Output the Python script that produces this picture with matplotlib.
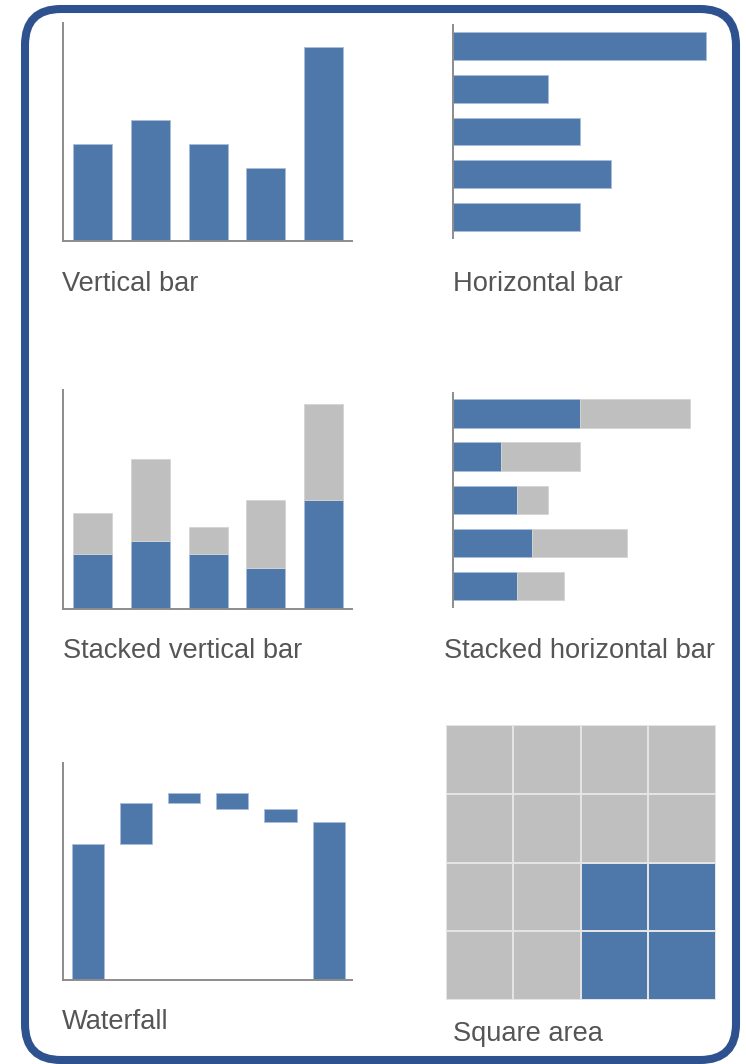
import matplotlib
matplotlib.use("Agg")
import matplotlib.pyplot as plt
import numpy as np
from matplotlib.patches import FancyBboxPatch
from matplotlib.colors import ListedColormap

# ---- data ----
bar_values = [4, 5, 4, 3, 8]            # single-series bars
stack_base = [4, 5, 4, 3, 8]            # first (blue) segment
stack_top = [3, 6, 2, 5, 7]             # second (grey) segment
wf_start = 50                           # waterfall opening total
wf_changes = [15, 4, -6, -5]            # waterfall steps
grid_size = 4                           # square-area grid is grid_size x grid_size
grid_highlight_rows = [2, 3]            # highlighted cells (row, col from top-left)
grid_highlight_cols = [2, 3]
titles = ["Vertical bar", "Horizontal bar", "Stacked vertical bar",
          "Stacked horizontal bar", "Waterfall", "Square area"]

BLUE = "#4e78aa"
EDGE = "#a9bedb"
GREY = "#bfbfbf"
AXIS = "#8c8c8c"
TEXT = "#555555"
FRAME = "#2e5290"

W, H = 746, 1064
fig = plt.figure(figsize=(W / 100, H / 100), dpi=100)
plt.rcParams["font.family"] = ["Liberation Sans", "DejaVu Sans"]

# background canvas in pixel units
bg = fig.add_axes([0, 0, 1, 1])
bg.set_xlim(0, W)
bg.set_ylim(H, 0)
bg.axis("off")
bg.add_patch(FancyBboxPatch((25, 9), 711, 1051,
                            boxstyle="round,pad=0,rounding_size=36",
                            facecolor="white", edgecolor=FRAME, linewidth=5.8))


def panel(x0, y0, x1, y1):
    ax = fig.add_axes([x0 / W, 1 - y1 / H, (x1 - x0) / W, (y1 - y0) / H])
    ax.set_facecolor("none")
    for s in ax.spines.values():
        s.set_visible(False)
    ax.tick_params(left=False, bottom=False, labelleft=False, labelbottom=False)
    return ax


def style_spines(ax, left=True, bottom=True):
    for name, show in (("left", left), ("bottom", bottom)):
        sp = ax.spines[name]
        sp.set_visible(show)
        sp.set_color(AXIS)
        sp.set_linewidth(1.4)


bar_kw = dict(edgecolor=EDGE, linewidth=0.6)
idx = np.arange(len(bar_values))

# Vertical bar
ax = panel(63.3, 23, 352, 241)
ax.bar(idx, bar_values, width=0.677, color=BLUE, **bar_kw)
ax.set_xlim(-0.512, 4.498)
ax.set_ylim(0, 9)
style_spines(ax)

# Horizontal bar
ax = panel(453.3, 25, 453.3 + 31.6 * 9, 238)
ax.barh(idx, bar_values, height=0.656, color=BLUE, **bar_kw)
ax.set_xlim(0, 9)
ax.set_ylim(-0.5, 4.5)
style_spines(ax, bottom=False)

# Stacked vertical bar
ax = panel(63.3, 390, 352, 609.3)
ax.bar(idx, stack_base, width=0.677, color=BLUE, **bar_kw)
ax.bar(idx, stack_top, bottom=stack_base, width=0.677, color=GREY,
       edgecolor="#d4d4d4", linewidth=0.6)
ax.set_xlim(-0.512, 4.498)
ax.set_ylim(0, 16)
style_spines(ax)

# Stacked horizontal bar
ax = panel(453.3, 392.7, 453.3 + 15.8 * 18, 606.7)
ax.barh(idx, stack_base, height=0.656, color=BLUE, **bar_kw)
ax.barh(idx, stack_top, left=stack_base, height=0.656, color=GREY,
        edgecolor="#d4d4d4", linewidth=0.6)
ax.set_xlim(0, 18)
ax.set_ylim(-0.48, 4.48)
style_spines(ax, bottom=False)

# Waterfall
levels = np.concatenate([[wf_start], wf_start + np.cumsum(wf_changes)])
wf_bottoms = [0] + [min(levels[i], levels[i + 1]) for i in range(len(wf_changes))] + [0]
wf_heights = [wf_start] + [abs(c) for c in wf_changes] + [levels[-1]]
ax = panel(63.3, 762.7, 352, 980)
ax.bar(np.arange(len(wf_heights)), wf_heights, bottom=wf_bottoms, width=0.67,
       color=BLUE, **bar_kw)
ax.set_xlim(-0.511, 5.485)
ax.set_ylim(0, 80)
style_spines(ax)

# Square area
grid = np.zeros((grid_size, grid_size))
for r in grid_highlight_rows:
    for c in grid_highlight_cols:
        grid[r, c] = 1
ax = panel(445.7, 725, 716, 1000)
ax.pcolormesh(grid, cmap=ListedColormap([GREY, BLUE]), vmin=0, vmax=1,
              edgecolors="#e4e4e4", linewidth=1.4)
ax.set_xlim(0, grid_size)
ax.set_ylim(grid_size, 0)

# Panel captions
caption_pos = [(62, 291), (453, 291), (63, 658), (444, 658), (62, 1029), (453, 1041)]
for t, (x, y) in zip(titles, caption_pos):
    bg.text(x, y, t, fontsize=19.6, color=TEXT, ha="left", va="baseline")

fig.savefig("out.png", dpi=100)
